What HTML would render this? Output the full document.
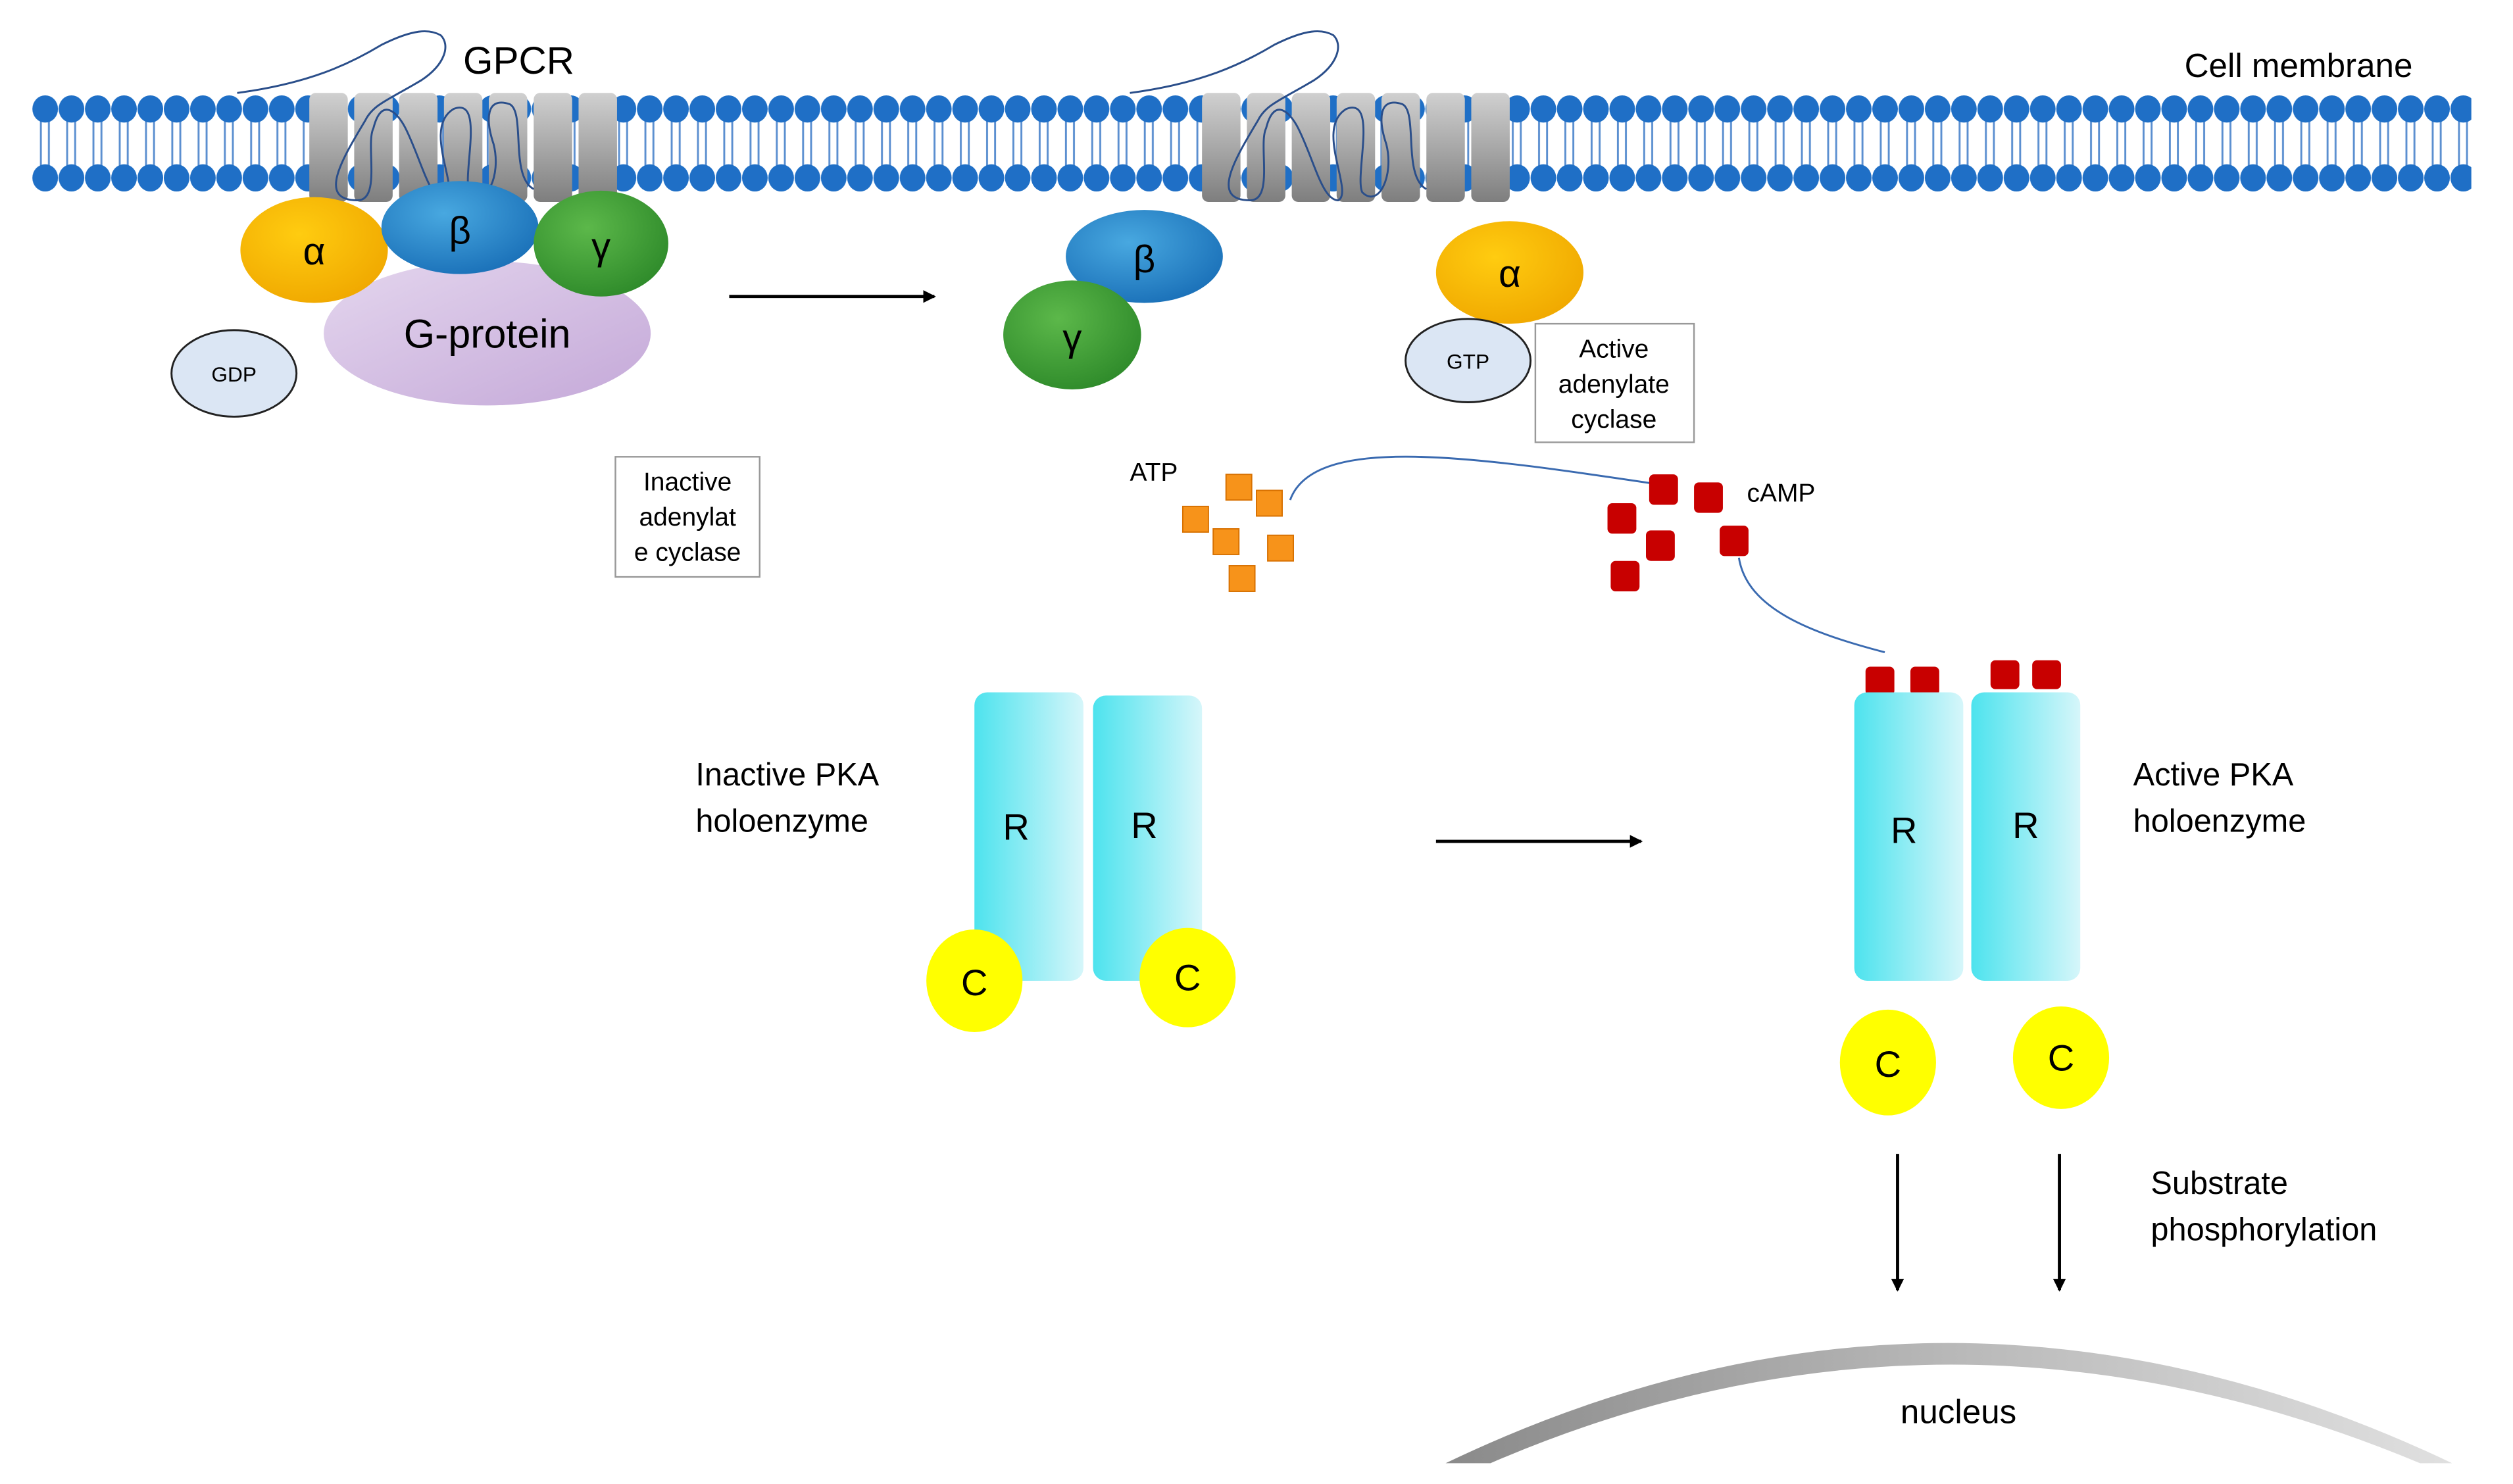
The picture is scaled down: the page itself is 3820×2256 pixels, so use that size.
<!DOCTYPE html>
<html><head><meta charset="utf-8"><style>html,body{margin:0;padding:0;background:#fff}svg{display:block}</style></head>
<body>
<svg width="3820" height="2256" viewBox="0 0 1568 926" preserveAspectRatio="none" xmlns="http://www.w3.org/2000/svg" font-family="Liberation Sans, sans-serif">
<defs>
<pattern id="mem" x="20" y="0" width="16.4" height="921" patternUnits="userSpaceOnUse">
<line x1="5.5" y1="74" x2="5.5" y2="106" stroke="#5b8fd0" stroke-width="1.2"/>
<line x1="10.5" y1="74" x2="10.5" y2="106" stroke="#5b8fd0" stroke-width="1.2"/>
<ellipse cx="8.2" cy="68" rx="8" ry="8.5" fill="#1f6fc6"/>
<ellipse cx="8.2" cy="111" rx="8" ry="8.5" fill="#1f6fc6"/>
</pattern>
<linearGradient id="cyl" x1="0" y1="0" x2="0" y2="1"><stop offset="0" stop-color="#d0d0d0"/><stop offset="0.5" stop-color="#a8a8a8"/><stop offset="1" stop-color="#7e7e7e"/></linearGradient>
<radialGradient id="ga" cx="0.4" cy="0.35" r="0.7"><stop offset="0" stop-color="#ffcc10"/><stop offset="1" stop-color="#f0a800"/></radialGradient>
<radialGradient id="gb" cx="0.4" cy="0.35" r="0.7"><stop offset="0" stop-color="#48a8e0"/><stop offset="1" stop-color="#1a70b8"/></radialGradient>
<radialGradient id="gg" cx="0.4" cy="0.35" r="0.7"><stop offset="0" stop-color="#5cb84a"/><stop offset="1" stop-color="#2e8a2a"/></radialGradient>
<linearGradient id="gp" x1="0" y1="0" x2="1" y2="1"><stop offset="0" stop-color="#e4d6ee"/><stop offset="1" stop-color="#c4a8d8"/></linearGradient>
<linearGradient id="rr" x1="0" y1="0" x2="1" y2="0"><stop offset="0" stop-color="#4de3ee"/><stop offset="1" stop-color="#d6f6fa"/></linearGradient>
<linearGradient id="nuc" x1="0" y1="0" x2="1" y2="0"><stop offset="0" stop-color="#8a8a8a"/><stop offset="0.5" stop-color="#b8b8b8"/><stop offset="1" stop-color="#e0e0e0"/></linearGradient>
<marker id="ah" markerWidth="8" markerHeight="8" refX="7" refY="4" orient="auto" markerUnits="userSpaceOnUse"><path d="M0,0 L8,4 L0,8z" fill="#000"/></marker>
<g id="cyls">
<rect x="0" y="58" width="24" height="68" rx="4" fill="url(#cyl)"/>
<rect x="28" y="58" width="24" height="68" rx="4" fill="url(#cyl)"/>
<rect x="56" y="58" width="24" height="68" rx="4" fill="url(#cyl)"/>
<rect x="84" y="58" width="24" height="68" rx="4" fill="url(#cyl)"/>
<rect x="112" y="58" width="24" height="68" rx="4" fill="url(#cyl)"/>
<rect x="140" y="58" width="24" height="68" rx="4" fill="url(#cyl)"/>
<rect x="168" y="58" width="24" height="68" rx="4" fill="url(#cyl)"/>
<path d="M-45,58 C0,52 25,40 45,28 C65,18 75,18 82,22 C88,28 85,40 70,50 C50,62 40,65 35,75 C20,100 5,125 30,125 C45,125 35,90 40,80 C45,60 55,70 60,80 C70,100 75,125 85,125 C95,120 70,80 90,68 C110,60 95,110 100,120 C110,130 120,110 115,90 C110,75 110,60 125,65 C135,70 125,110 140,118" fill="none" stroke="#2a4e8a" stroke-width="1.2"/>
</g>
</defs>
<rect x="20" y="55" width="1522" height="68" fill="url(#mem)"/>
<use href="#cyls" x="193"/>
<use href="#cyls" x="750"/>
<text x="289" y="46" font-size="24">GPCR</text>
<text x="1363" y="48" font-size="21">Cell membrane</text>
<ellipse cx="304" cy="208" rx="102" ry="45" fill="url(#gp)"/>
<ellipse cx="196" cy="156" rx="46" ry="33" fill="url(#ga)"/>
<ellipse cx="287" cy="142" rx="49" ry="29" fill="url(#gb)"/>
<ellipse cx="375" cy="152" rx="42" ry="33" fill="url(#gg)"/>
<text x="196" y="165" font-size="24" text-anchor="middle">α</text>
<text x="287" y="152" font-size="24" text-anchor="middle">β</text>
<text x="375" y="162" font-size="24" text-anchor="middle">γ</text>
<text x="304" y="217" font-size="25" text-anchor="middle">G-protein</text>
<ellipse cx="146" cy="233" rx="39" ry="27" fill="#dbe6f4" stroke="#222" stroke-width="1.2"/>
<text x="146" y="238" font-size="13" text-anchor="middle">GDP</text>
<line x1="455" y1="185" x2="583" y2="185" stroke="#000" stroke-width="2" marker-end="url(#ah)"/>
<rect x="384" y="285" width="90" height="75" fill="#fff" stroke="#999"/>
<text font-size="16" text-anchor="middle"><tspan x="429" y="306">Inactive</tspan><tspan x="429" y="328">adenylat</tspan><tspan x="429" y="350">e cyclase</tspan></text>
<ellipse cx="714" cy="160" rx="49" ry="29" fill="url(#gb)"/>
<ellipse cx="669" cy="209" rx="43" ry="34" fill="url(#gg)"/>
<text x="714" y="170" font-size="24" text-anchor="middle">β</text>
<text x="669" y="219" font-size="24" text-anchor="middle">γ</text>
<ellipse cx="942" cy="170" rx="46" ry="32" fill="url(#ga)"/>
<text x="942" y="179" font-size="24" text-anchor="middle">α</text>
<ellipse cx="916" cy="225" rx="39" ry="26" fill="#dbe6f4" stroke="#222" stroke-width="1.2"/>
<text x="916" y="230" font-size="13" text-anchor="middle">GTP</text>
<rect x="958" y="202" width="99" height="74" fill="#fff" stroke="#999"/>
<text font-size="16" text-anchor="middle"><tspan x="1007" y="223">Active</tspan><tspan x="1007" y="245">adenylate</tspan><tspan x="1007" y="267">cyclase</tspan></text>
<text x="705" y="300" font-size="16">ATP</text>
<text x="1090" y="313" font-size="16">cAMP</text>
<path d="M805,312 C820,270 920,285 1040,303" fill="none" stroke="#3a6ab0" stroke-width="1.2"/>
<path d="M1085,348 C1090,380 1130,395 1176,407" fill="none" stroke="#3a6ab0" stroke-width="1.2"/>
<g fill="#f7931a" stroke="#d77000" stroke-width="0.8">
<rect x="765" y="296" width="16" height="16"/><rect x="784" y="306" width="16" height="16"/>
<rect x="738" y="316" width="16" height="16"/><rect x="757" y="330" width="16" height="16"/>
<rect x="791" y="334" width="16" height="16"/><rect x="767" y="353" width="16" height="16"/>
</g>
<g fill="#c80000">
<rect x="1029" y="296" width="18" height="19" rx="3"/><rect x="1057" y="301" width="18" height="19" rx="3"/>
<rect x="1003" y="314" width="18" height="19" rx="3"/><rect x="1027" y="331" width="18" height="19" rx="3"/>
<rect x="1073" y="328" width="18" height="19" rx="3"/><rect x="1005" y="350" width="18" height="19" rx="3"/>
<rect x="1164" y="416" width="18" height="18" rx="3"/><rect x="1192" y="416" width="18" height="18" rx="3"/>
<rect x="1242" y="412" width="18" height="18" rx="3"/><rect x="1268" y="412" width="18" height="18" rx="3"/>
</g>
<text font-size="20"><tspan x="434" y="490">Inactive PKA</tspan><tspan x="434" y="519">holoenzyme</tspan></text>
<rect x="608" y="432" width="68" height="180" rx="8" fill="url(#rr)"/>
<rect x="682" y="434" width="68" height="178" rx="8" fill="url(#rr)"/>
<text x="634" y="524" font-size="23" text-anchor="middle">R</text>
<text x="714" y="523" font-size="23" text-anchor="middle">R</text>
<ellipse cx="608" cy="612" rx="30" ry="32" fill="#ffff00"/>
<ellipse cx="741" cy="610" rx="30" ry="31" fill="#ffff00"/>
<text x="608" y="621" font-size="23" text-anchor="middle">C</text>
<text x="741" y="618" font-size="23" text-anchor="middle">C</text>
<line x1="896" y1="525" x2="1024" y2="525" stroke="#000" stroke-width="2" marker-end="url(#ah)"/>
<rect x="1157" y="432" width="68" height="180" rx="8" fill="url(#rr)"/>
<rect x="1230" y="432" width="68" height="180" rx="8" fill="url(#rr)"/>
<text x="1188" y="526" font-size="23" text-anchor="middle">R</text>
<text x="1264" y="523" font-size="23" text-anchor="middle">R</text>
<text font-size="20"><tspan x="1331" y="490">Active PKA</tspan><tspan x="1331" y="519">holoenzyme</tspan></text>
<ellipse cx="1178" cy="663" rx="30" ry="33" fill="#ffff00"/>
<ellipse cx="1286" cy="660" rx="30" ry="32" fill="#ffff00"/>
<text x="1178" y="672" font-size="23" text-anchor="middle">C</text>
<text x="1286" y="668" font-size="23" text-anchor="middle">C</text>
<line x1="1184" y1="720" x2="1184" y2="805" stroke="#000" stroke-width="2" marker-end="url(#ah)"/>
<line x1="1285" y1="720" x2="1285" y2="805" stroke="#000" stroke-width="2" marker-end="url(#ah)"/>
<text font-size="20"><tspan x="1342" y="745">Substrate</tspan><tspan x="1342" y="774">phosphorylation</tspan></text>
<path d="M902,913 Q1215,763 1530,913 L1510,913 Q1215,790 930,913 Z" fill="url(#nuc)"/>
<text x="1222" y="888" font-size="21" text-anchor="middle">nucleus</text>
</svg>
</body></html>
